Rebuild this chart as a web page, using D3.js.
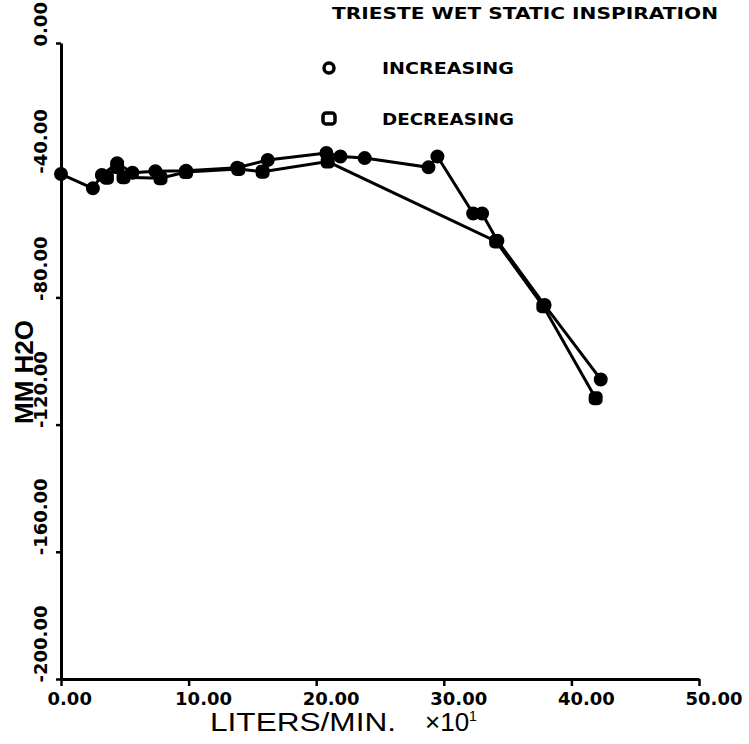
<!DOCTYPE html>
<html>
<head>
<meta charset="utf-8">
<script src="https://cdn.jsdelivr.net/npm/d3@7"></script>
<style>
  body { margin: 0; background: #fff; }
  svg { display: block; }
  .tick text { font-family: "DejaVu Sans", sans-serif; font-weight: bold; font-size: 18px; fill: #000; }
</style>
</head>
<body>
<div id="content"></div>
<script>
// values (flow in liters/min x10, pressure in mm H2O)
var incFlow = [0, 2.5, 3.2, 4.4, 5.6, 7.4, 9.8, 13.8, 16.2, 20.8, 21.9, 23.8, 28.8, 29.5, 32.3, 33.0, 34.2, 37.9, 42.3];
var incPress = [-41.2, -45.7, -41.5, -37.8, -40.8, -40.3, -40.2, -39.2, -36.8, -34.6, -35.7, -36.2, -39.1, -35.7, -53.6, -53.6, -62.2, -82.4, -105.8];
var decFlow = [41.9, 37.8, 34.1, 20.9, 15.8, 13.9, 9.8, 7.8, 4.9, 4.4, 3.6];
var decPress = [-111.7, -82.8, -62.4, -37.3, -40.5, -39.6, -40.6, -42.5, -42.2, -39.0, -42.4];

var xTicks = [0, 10, 20, 30, 40, 50];
var xTickLabels = ["0.00", "10.00", "20.00", "30.00", "40.00", "50.00"];
var yTicks = [0, -40, -80, -120, -160, -200];
var yTickLabels = ["0.00", "-40.00", "-80.00", "-120.00", "-160.00", "-200.00"];

var title = "TRIESTE WET STATIC INSPIRATION";
var legendNames = ["INCREASING", "DECREASING"];

var width = 749, height = 744;
var plot = {'left': 61, 'right': 699, 'top': 43, 'bottom': 679};

function zip(xs, ys) {
  var out = [];
  for (var i = 0; i < xs.length; i++) out.push({x: xs[i], y: ys[i]});
  return out;
}

var increasing = zip(incFlow, incPress);
var decreasing = zip(decFlow, decPress);

var x = d3.scaleLinear().domain([0, 50]).range([plot['left'], plot['right']]);
var y = d3.scaleLinear().domain([-200, 0]).range([plot['bottom'], plot['top']]);

var svg = d3.select("#content").append("svg")
  .attr("width", width)
  .attr("height", height);

svg.append("rect").attr("width", width).attr("height", height).attr("fill", "#fff");

// axes
var xAxis = svg.append("g")
  .attr("transform", "translate(0," + plot['bottom'] + ")")
  .call(d3.axisBottom(x).tickValues(xTicks).tickSize(7).tickSizeOuter(0)
    .tickFormat(function(d, i) { return xTickLabels[i]; }));
xAxis.select(".domain").attr("stroke", "#000").attr("stroke-width", 3);
xAxis.selectAll(".tick line").attr("stroke", "#000").attr("stroke-width", 2.5);
xAxis.selectAll(".tick text")
  .attr("text-anchor", "start")
  .attr("x", -14)
  .attr("y", 26)
  .attr("dy", 0);

var yAxis = svg.append("g")
  .attr("transform", "translate(" + plot['left'] + ",0)")
  .call(d3.axisLeft(y).tickValues(yTicks).tickSize(5).tickSizeOuter(0)
    .tickFormat(function(d, i) { return yTickLabels[i]; }));
yAxis.select(".domain").attr("stroke", "#000").attr("stroke-width", 3);
yAxis.selectAll(".tick line").attr("stroke", "#000").attr("stroke-width", 2.5);
yAxis.selectAll(".tick text")
  .attr("text-anchor", "start")
  .attr("x", 0)
  .attr("y", 0)
  .attr("dy", 0)
  .attr("transform", "translate(-14,3) rotate(-90)");

// lines
var line = d3.line()
  .x(function(d) { return x(d.x); })
  .y(function(d) { return y(d.y); });

svg.append("path").datum(increasing)
  .attr("d", line).attr("fill", "none").attr("stroke", "#000").attr("stroke-width", 3);
svg.append("path").datum(decreasing)
  .attr("d", line).attr("fill", "none").attr("stroke", "#000").attr("stroke-width", 3);

// markers
svg.selectAll(".inc").data(increasing).enter().append("circle")
  .attr("class", "inc")
  .attr("cx", function(d) { return x(d.x); })
  .attr("cy", function(d) { return y(d.y); })
  .attr("r", 6)
  .attr("fill", "#000").attr("stroke", "#000").attr("stroke-width", 2);

svg.selectAll(".dec").data(decreasing).enter().append("rect")
  .attr("class", "dec")
  .attr("x", function(d) { return x(d.x) - 6; })
  .attr("y", function(d) { return y(d.y) - 6; })
  .attr("width", 12).attr("height", 12).attr("rx", 4)
  .attr("fill", "#000").attr("stroke", "#000").attr("stroke-width", 2);

// title and legend
svg.append("text")
  .attr("x", 332).attr("y", 19)
  .attr("textLength", 386).attr("lengthAdjust", "spacingAndGlyphs")
  .style("font-family", "DejaVu Sans").style("font-weight", "bold").style("font-size", "16px")
  .text(title);

svg.append("circle").attr("cx", 329).attr("cy", 68).attr("r", 5)
  .attr("fill", "#fff").attr("stroke", "#000").attr("stroke-width", 3.5);
svg.append("rect").attr("x", 323).attr("y", 113).attr("width", 12).attr("height", 11).attr("rx", 3)
  .attr("fill", "#fff").attr("stroke", "#000").attr("stroke-width", 3.5);

svg.selectAll(".legtext").data(legendNames).enter().append("text")
  .attr("class", "legtext")
  .attr("x", 382)
  .attr("y", function(d, i) { return 74 + i * 51; })
  .attr("textLength", 132).attr("lengthAdjust", "spacingAndGlyphs")
  .style("font-family", "DejaVu Sans").style("font-weight", "bold").style("font-size", "15px")
  .text(function(d) { return d; });

// axis titles
svg.append("text")
  .attr("transform", "translate(33,372) rotate(-90)")
  .attr("text-anchor", "middle")
  .style("font-family", "Liberation Sans").style("font-weight", "bold").style("font-size", "26px")
  .text("MM H2O");

var xt = svg.append("text")
  .attr("x", 210).attr("y", 731)
  .style("font-family", "Liberation Sans").style("font-size", "26px");
xt.append("tspan").attr("textLength", 186).attr("lengthAdjust", "spacingAndGlyphs").text("LITERS/MIN.");
xt.append("tspan").attr("x", 425).text("\u00d710");
xt.append("tspan").attr("dy", -10).style("font-size", "14px").text("1");
</script>
</body>
</html>
